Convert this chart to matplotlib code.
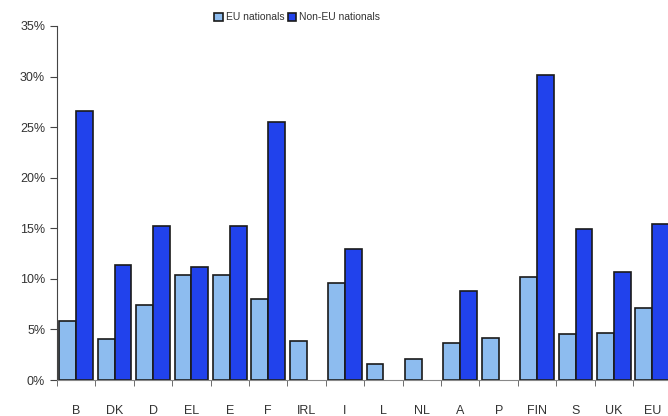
import numpy as np
import matplotlib.pyplot as plt
from matplotlib.ticker import FuncFormatter, FixedLocator

plt.rcParams['font.family'] = ['Liberation Sans', 'DejaVu Sans']

# ----------- DATA -----------
countries = ["B", "DK", "D", "EL", "E", "F", "IRL", "I", "L", "NL",
             "A", "P", "FIN", "S", "UK", "EU"]
eu_nationals = [5.8, 4.1, 7.4, 10.4, 10.4, 8.0, 3.9, 9.6, 1.6, 2.1,
                3.7, 4.2, 10.2, 4.5, 4.6, 7.1]
non_eu_nationals = [26.6, 11.4, 15.2, 11.2, 15.2, 25.5, 0, 13.0, 0, 0,
                    8.8, 0, 30.2, 14.9, 10.7, 15.4]

# ----------- PLOT -----------
fig = plt.figure(figsize=(6.68, 4.16), dpi=100)
ax = fig.add_axes([0.0853, 0.0865, 0.92, 0.851])

x = np.arange(len(countries))
w = 0.44
ax.bar(x - w / 2, eu_nationals, w, color="#8dbcef", edgecolor="#1a1a1a",
       linewidth=1.2, label="EU nationals")
non_eu = np.array(non_eu_nationals)
ax.bar(x[non_eu > 0] + w / 2, non_eu[non_eu > 0], w, color="#2142ec",
       edgecolor="#1a1a1a", linewidth=1.2, label="Non-EU nationals")

ax.set_xlim(-0.5, 15.5)
ax.set_ylim(0, 35)
ax.set_yticks(np.arange(0, 36, 5))
ax.yaxis.set_major_formatter(FuncFormatter(lambda v, p: f"{v:.0f}%"))
ax.set_xticks(x)
ax.set_xticklabels(countries)
ax.xaxis.set_minor_locator(FixedLocator(np.arange(-0.5, 16, 1)))
ax.tick_params(axis="x", which="major", length=0, pad=18, labelsize=9,
               labelcolor="#333333")
ax.tick_params(axis="x", which="minor", length=4, direction="out", color="#555555")
ax.tick_params(axis="y", length=5, direction="out", labelsize=9,
               labelcolor="#333333", color="#444444")

for s in ["top", "right"]:
    ax.spines[s].set_visible(False)
ax.spines["left"].set_color("#444444")
ax.spines["bottom"].set_color("#888888")

fig.legend(loc="center", bbox_to_anchor=(0.445, 0.958), ncol=2, frameon=False,
           fontsize=7.5, handlelength=0.8, handleheight=0.8, handletextpad=0.3,
           columnspacing=0.3, labelcolor="#333333")

fig.savefig("out.png", dpi=100)
